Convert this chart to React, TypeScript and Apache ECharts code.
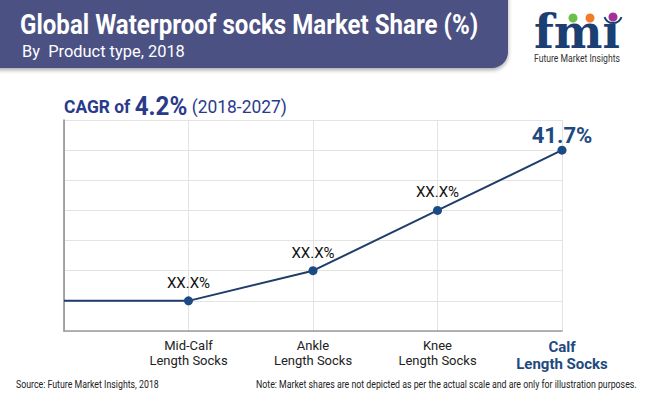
import React, { useEffect, useRef } from "react";
import * as echarts from "echarts";

const categories = ["", "Mid-Calf\nLength Socks", "Ankle\nLength Socks", "Knee\nLength Socks", "Calf\nLength Socks"];
const positions = [1, 1, 2, 4, 6];
const pointLabels = ["", "XX.X%", "XX.X%", "XX.X%", "41.7%"];
const yTicks = [0, 1, 2, 3, 4, 5, 6, 7];

const NAVY = "#1f3d6b";
const DOT = "#1c4a85";
const BANNER = "#4b5183";

function measure(text: string, font: string): number {
  const c = document.createElement("canvas").getContext("2d");
  if (!c) return text.length * 7;
  c.font = font;
  return c.measureText(text).width;
}
function fit(text: string, font: string, target: number): number {
  const w = measure(text, font);
  return w > 0 ? target / w : 1;
}

export default function App() {
  const ref = useRef<HTMLDivElement>(null);
  useEffect(() => {
    if (!ref.current) return;
    const chart = echarts.init(ref.current, null, { renderer: "svg" });
    const last = categories.length - 1;

    const titleText = "Global Waterproof socks Market Share (%)";
    const subText = "By  Product type, 2018";
    const srcText = "Source: Future Market Insights, 2018";
    const noteText = "Note: Market shares are not depicted as per the actual scale and are only for illustration purposes.";
    const cagrW =
      measure("CAGR of ", "bold 18px Roboto") + measure("4.2%", "bold 25px Roboto") + measure(" (2018-2027)", "18px Roboto");

    chart.setOption({
      animation: false,
      backgroundColor: "#ffffff",
      grid: { left: 64, right: 88, top: 120, bottom: 68 },
      xAxis: {
        type: "category",
        data: categories,
        boundaryGap: false,
        axisLine: { show: true, lineStyle: { color: "#9a9a9a", width: 1.5 } },
        axisTick: { show: false },
        splitLine: { show: true, lineStyle: { color: "#e3e3e3", width: 1 } },
        axisLabel: {
          interval: 0,
          margin: 7,
          formatter: (v: string, i: number) => {
            if (i === last) return v.split("\n").map((s) => `{b|${s}}`).join("\n");
            return v.split("\n").map((s) => `{a|${s}}`).join("\n");
          },
          rich: {
            a: { fontFamily: "Roboto", fontSize: 13, color: "#222222", lineHeight: 15, align: "center" },
            b: { fontFamily: "Roboto", fontSize: 15, fontWeight: "bold", color: "#1f4a7f", lineHeight: 17, align: "center" },
          },
        },
      },
      yAxis: {
        type: "value",
        min: yTicks[0],
        max: yTicks[yTicks.length - 1],
        interval: 1,
        axisLine: { show: true, lineStyle: { color: "#8a8a8a", width: 1.5 } },
        axisTick: { show: false },
        axisLabel: { show: false },
        splitLine: { show: true, lineStyle: { color: "#e3e3e3", width: 1 } },
      },
      series: [
        {
          type: "line",
          data: positions.map((v, i) => {
            if (i === 0) return { value: v, symbol: "none", label: { show: false } };
            if (i === last)
              return {
                value: v,
                label: {
                  show: true,
                  formatter: pointLabels[i],
                  fontFamily: "Roboto",
                  fontWeight: "bold",
                  fontSize: 22,
                  color: "#1f4a7f",
                  offset: [0, 5],
                  distance: 4,
                },
              };
            return { value: v };
          }),
          symbol: "circle",
          symbolSize: 9,
          lineStyle: { color: NAVY, width: 2 },
          itemStyle: { color: DOT },
          label: {
            show: true,
            position: "top",
            distance: 6,
            formatter: (p: any) => pointLabels[p.dataIndex],
            fontFamily: "Roboto",
            fontSize: 15,
            color: "#111111",
          },
        },
      ],
      graphic: [
        {
          type: "rect",
          shape: { x: -20, y: -20, width: 528, height: 88, r: [0, 0, 16, 0] },
          style: { fill: BANNER, shadowBlur: 4, shadowColor: "rgba(0,0,0,0.35)", shadowOffsetY: 2 },
        },
        {
          type: "text",
          x: 20,
          y: 10,
          scaleX: fit(titleText, "bold 28px Roboto", 458),
          style: { text: titleText, fill: "#ffffff", fontFamily: "Roboto", fontWeight: "bold", fontSize: 28 },
        },
        {
          type: "text",
          x: 22,
          y: 42,
          scaleX: fit(subText, "17px Roboto", 163),
          style: { text: subText, fill: "#ffffff", fontFamily: "Roboto", fontSize: 17 },
        },
        {
          type: "text",
          x: 64,
          y: 94,
          scaleX: 223 / cagrW,
          style: {
            text: "{a|CAGR of }{b|4.2%}{c| (2018-2027)}",
            rich: {
              a: { fontFamily: "Roboto", fontWeight: "bold", fontSize: 18, fill: "#2a3a8a" },
              b: { fontFamily: "Roboto", fontWeight: "bold", fontSize: 25, fill: "#2a3a8a" },
              c: { fontFamily: "Roboto", fontSize: 18, fill: "#2a3a8a" },
            },
          },
        },
        {
          type: "text",
          x: 534,
          y: 9,
          scaleX: fit("fm\u0131", "bold 46px 'DejaVu Serif'", 86),
          style: { text: "fm\u0131", fill: "#1c3f73", fontFamily: "DejaVu Serif", fontWeight: "bold", fontSize: 46 },
        },
        { type: "circle", shape: { cx: 573, cy: 18, r: 4.5 }, style: { fill: "#6cc04a" } },
        { type: "circle", shape: { cx: 590, cy: 18, r: 4.5 }, style: { fill: "#f07c2a" } },
        { type: "circle", shape: { cx: 613, cy: 17, r: 4.5 }, style: { fill: "#a0329a" } },
        {
          type: "arc",
          shape: { cx: 613, cy: 14, r: 9, startAngle: 0.35, endAngle: Math.PI - 0.35 },
          style: { stroke: "#1c3f73", lineWidth: 2, fill: "none" },
        },
        {
          type: "text",
          x: 534,
          y: 53,
          scaleX: fit("Future Market Insights", "10px Roboto", 86),
          style: { text: "Future Market Insights", fill: "#333333", fontFamily: "Roboto", fontSize: 10 },
        },
        {
          type: "text",
          x: 16,
          y: 378,
          scaleX: fit(srcText, "11.5px Roboto", 143),
          style: { text: srcText, fill: "#222222", fontFamily: "Roboto", fontSize: 11.5 },
        },
        {
          type: "text",
          x: 256,
          y: 378,
          scaleX: fit(noteText, "11.5px Roboto", 381),
          style: { text: noteText, fill: "#222222", fontFamily: "Roboto", fontSize: 11.5 },
        },
      ],
    });
    return () => chart.dispose();
  }, []);
  return <div ref={ref} style={{ width: 650, height: 399, position: "absolute", left: 0, top: 0 }} />;
}
